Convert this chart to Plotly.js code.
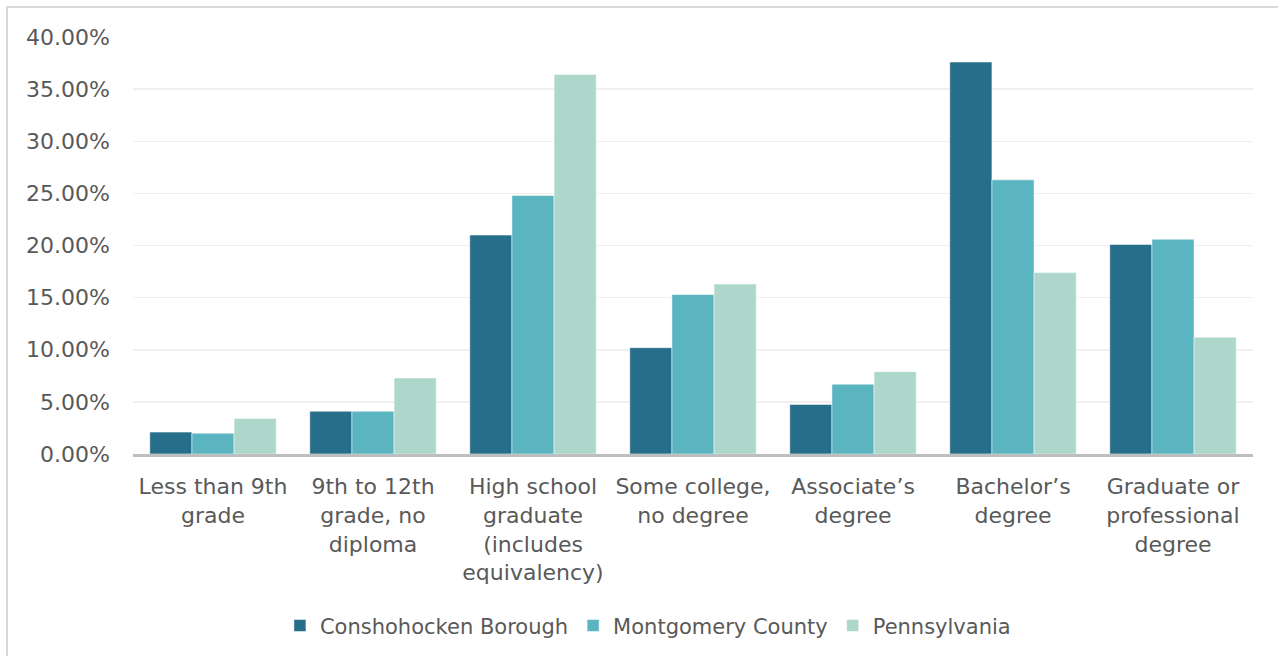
<!DOCTYPE html>
<html>
<head>
<meta charset="utf-8">
<script src="https://cdn.plot.ly/plotly-3.0.1.min.js"></script>
<style>
  html, body { margin: 0; padding: 0; background: #ffffff; overflow: hidden; }
  #chart { width: 1278px; height: 656px; position: absolute; left: 0; top: 0; }
  #frame { position: absolute; left: 6px; top: 6px; width: 1290px; height: 670px; border: 2px solid #d9d9d9; pointer-events: none; }
</style>
</head>
<body>
<div id="chart"></div>
<div id="frame"></div>
<script>
const categories = [
  "Less than 9th<br>grade",
  "9th to 12th<br>grade, no<br>diploma",
  "High school<br>graduate<br>(includes<br>equivalency)",
  "Some college,<br>no degree",
  "Associate\u2019s<br>degree",
  "Bachelor\u2019s<br>degree",
  "Graduate or<br>professional<br>degree"
];
const seriesNames = ["Conshohocken Borough", "Montgomery County", "Pennsylvania"];
const conshohocken = [0.021, 0.041, 0.210, 0.102, 0.0475, 0.376, 0.201];
const montgomery   = [0.020, 0.041, 0.248, 0.153, 0.067, 0.263, 0.206];
const pennsylvania = [0.034, 0.073, 0.364, 0.163, 0.079, 0.174, 0.112];
const colors = ["#276e8a", "#5ab5c0", "#add7cb"];
const yTickVals = [0, 0.05, 0.10, 0.15, 0.20, 0.25, 0.30, 0.35, 0.40];

const values = [conshohocken, montgomery, pennsylvania];
const traces = values.map((v, i) => ({
  type: "bar",
  name: seriesNames[i],
  x: categories,
  y: v,
  marker: { color: colors[i], line: { color: "rgba(255,255,255,0.5)", width: 1 } },
  hoverinfo: "none"
}));

const family = "DejaVu Sans, Verdana, sans-serif";
const tickFont = { family: family, size: 22, color: "#595959" };
const legendFont = { family: family, size: 21, color: "#595959" };

const layout = {
  width: 1278,
  height: 656,
  margin: { l: 133, r: 25, t: 37, b: 202, pad: 0 },
  paper_bgcolor: "#ffffff",
  plot_bgcolor: "#ffffff",
  font: tickFont,
  barmode: "group",
  bargap: 0.21,
  bargroupgap: 0,
  showlegend: true,
  legend: {
    orientation: "h",
    xref: "container", yref: "container",
    x: 0.507, xanchor: "center",
    y: 0.046, yanchor: "middle",
    font: legendFont,
    itemwidth: 30,
    traceorder: "normal"
  },
  xaxis: {
    type: "category",
    showgrid: false,
    showline: true,
    linecolor: "#bfbfbf",
    linewidth: 3,
    ticks: "",
    tickfont: tickFont,
    tickangle: 0,
    ticklabelstandoff: 11,
    zeroline: false
  },
  yaxis: {
    range: [0, 0.40],
    tickvals: yTickVals,
    tickformat: ".2%",
    showgrid: true,
    gridcolor: "#efefef",
    gridwidth: 1.5,
    showline: false,
    zeroline: false,
    ticks: "",
    tickfont: tickFont,
    ticklabelstandoff: 22
  }
};

Plotly.newPlot("chart", traces, layout, { staticPlot: true, displayModeBar: false });
</script>
</body>
</html>
